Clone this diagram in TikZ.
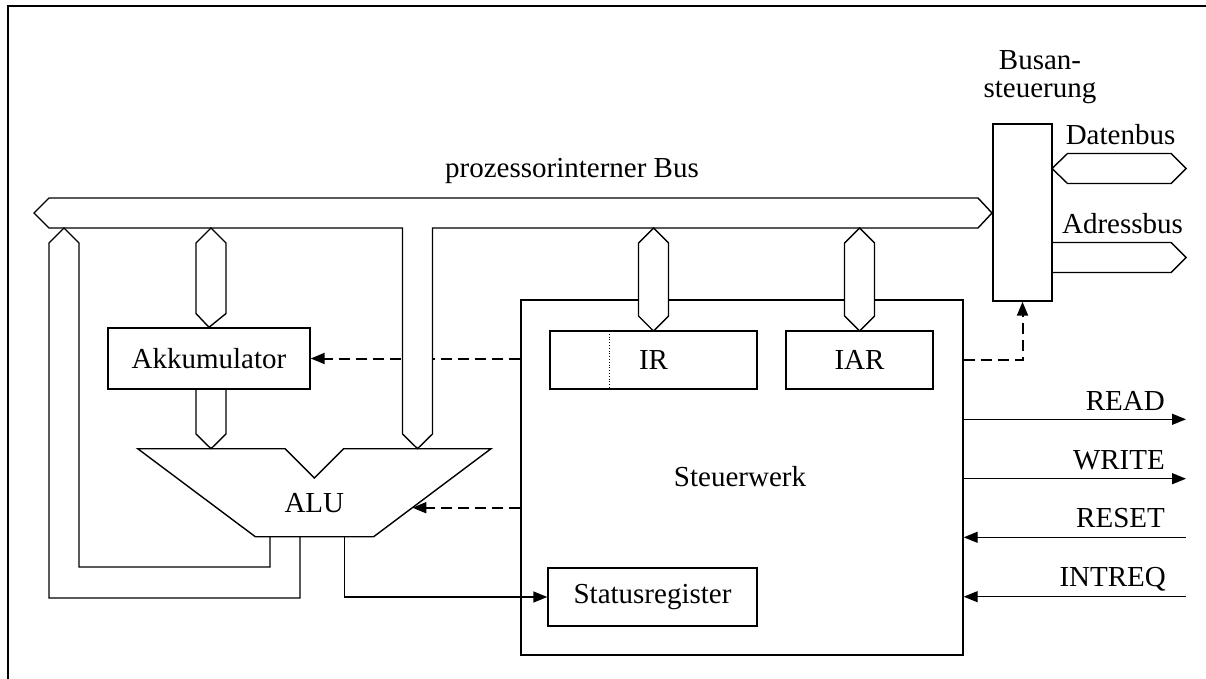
\documentclass[tikz,border=0pt]{standalone}
\usepackage{fontspec}
\setmainfont{Liberation Serif}
\usetikzlibrary{arrows.meta}
\begin{document}
\begin{tikzpicture}[x=1pt,y=-1pt,line join=miter,
  every node/.style={font=\fontsize{29}{33}\selectfont,inner sep=0pt},
  ln/.style={line width=1.4pt},
  box/.style={draw,line width=1.4pt},
  dsh/.style={line width=2pt,dash pattern=on 11pt off 6pt},
  arr/.style={-{Triangle[length=14pt,width=11pt]}},
  bus/.style={line width=1.4pt,fill=white}]
\useasboundingbox (0,0) rectangle (1206,679);
% frame
\draw[ln] (1206,6) -- (8,6) -- (8,679);

% boxes
\node[box,minimum width=442pt,minimum height=355pt] (sw) at (742,477.5) {};
\node (swl) at (740,477) {Steuerwerk};
\node[box,minimum width=202pt,minimum height=61pt] (akk) at (209,358.5) {Akkumulator};
\node[box,minimum width=59pt,minimum height=177pt] (bas) at (1022.5,212.5) {};
\node[anchor=base] (basl1) at (1040,70) {Busan-};
\node[anchor=base] (basl2) at (1040,98) {steuerung};

% ALU
\draw[ln] (137.7,448.7) -- (285,448.7) -- (314.3,478) -- (343.7,448.7) -- (491,448.7)
  -- (373.7,536.7) -- (255.3,536.7) -- cycle;
\node[anchor=base] (alu) at (314.3,512.3) {ALU};
\coordinate (alub1) at (270,536.7);
\coordinate (alub2) at (300,536.7);
\coordinate (alub3) at (344.3,536.7);
\coordinate (alur) at (412.4,507.7);
\coordinate (alut1) at (211,448.7);

% dashed control lines
\draw[dsh,arr] (akk.east -| sw.west) -- (akk.east);
\draw[dsh,arr] (alur -| sw.west) -- (alur);

% main bus with open stub down to ALU
\draw[bus] (432.5,228) -- (432.5,434) -- (417.5,448.7) -- (402.5,434) -- (402.5,228)
  -- (49,228) -- (34,213) -- (49,198) -- (978,198) -- (992,213) -- (978,228) -- cycle;
\node[anchor=base] (busl) at (572,178) {prozessorinterner Bus};

% loop from bus back to ALU
\draw[ln] (alub2) -- (300,598) -- (49,598) -- (49,243) -- (64,228) -- (79,243)
  -- (79,567) -- (270,567) -- (alub1);

% stub bus - Akkumulator
\filldraw[bus] (211,228) -- (226,243) -- (226,313.5) -- (akk.north) -- (196,313.5) -- (196,243) -- cycle;
% stub Akkumulator - ALU
\draw[ln] (akk.south -| 196,0) -- (196,434) -- (alut1) -- (226,434) -- (akk.south -| 226,0);

% inner registers
\node[box,minimum width=207pt,minimum height=58pt] (ir) at (653.5,360) {};
\node (irl) at (653.5,360) {IR};
\draw[line width=0.8pt,dotted] (609.3,331) -- (609.3,389);
\node[box,minimum width=147pt,minimum height=58pt] (iar) at (859.5,360) {IAR};
\node[box,minimum width=209pt,minimum height=58pt] (sr) at (652.5,597) {Statusregister};

% stubs bus - IR, IAR
\filldraw[bus] (653.5,228) -- (668.5,243) -- (668.5,316) -- (653.5,331) -- (638.5,316) -- (638.5,243) -- cycle;
\filldraw[bus] (859.5,228) -- (874.5,243) -- (874.5,316) -- (859.5,331) -- (844.5,316) -- (844.5,243) -- cycle;

% ALU -> Statusregister
\draw[ln,arr] (alub3) |- (sr.west);

% IAR -> Busansteuerung (dashed)
\draw[dsh,arr] (iar.east -| sw.east) -| (bas.south);

% external buses
\draw[bus] (1052,168.5) -- (1067.5,153.5) -- (1171,153.5) -- (1186,168.5) -- (1171,183.5) -- (1067.5,183.5) -- cycle;
\node[anchor=base] (dbl) at (1120.5,145) {Datenbus};
\draw[ln] (1052,242.5) -- (1171,242.5) -- (1186,257.5) -- (1171,272.5) -- (1052,272.5);
\node[anchor=base] (abl) at (1122.5,233.3) {Adressbus};

% control signals
\coordinate (readE) at (1186,419.3);
\coordinate (writeE) at (1186,478.7);
\coordinate (resetE) at (1186,537.3);
\coordinate (intE) at (1186,596.7);
\draw[ln,arr] (readE -| sw.east) -- (readE);
\draw[ln,arr] (writeE -| sw.east) -- (writeE);
\draw[ln,arr] (resetE) -- (resetE -| sw.east);
\draw[ln,arr] (intE) -- (intE -| sw.east);
\node[anchor=base east] (readl) at (1165,410) {READ};
\node[anchor=base east] (writel) at (1165,469.3) {WRITE};
\node[anchor=base east] (resetl) at (1165,527.7) {RESET};
\node[anchor=base east] (intl) at (1166,586.7) {INTREQ};
\end{tikzpicture}
\end{document}
